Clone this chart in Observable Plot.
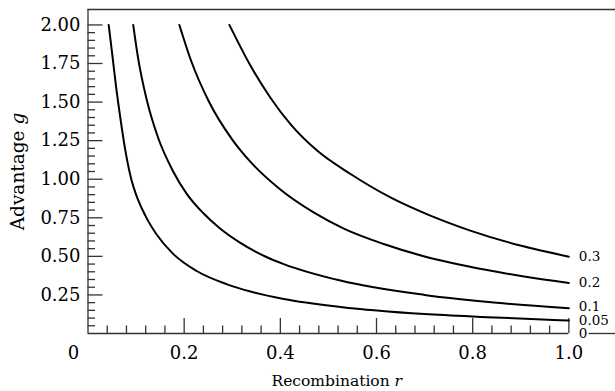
<!DOCTYPE html>
<html>
<head>
<meta charset="utf-8">
<script src="https://cdn.jsdelivr.net/npm/d3@7"></script>
<script src="https://cdn.jsdelivr.net/npm/@observablehq/plot@0.6"></script>
<style>
  html, body { margin: 0; padding: 0; background: #fff; }
  #chart svg { display: block; }
</style>
</head>
<body>
<div id="chart"></div>
<script>
// Curve parameters (labels at the right end)
const curveLabels = ["0.05", "0.1", "0.2", "0.3"];

// Recombination r and advantage g
const r005 = [0.043, 0.050, 0.058, 0.0676, 0.078, 0.090, 0.100, 0.112, 0.125, 0.142, 0.177, 0.226, 0.288, 0.338, 0.407, 0.525, 0.700, 0.830, 1.000];
const g005 = [2.000, 1.820, 1.610, 1.389, 1.180, 1.000, 0.900, 0.810, 0.730, 0.645, 0.516, 0.405, 0.320, 0.272, 0.224, 0.172, 0.126, 0.106, 0.084];

const r010 = [0.094, 0.104, 0.122, 0.146, 0.176, 0.205, 0.240, 0.274, 0.316, 0.371, 0.407, 0.525, 0.700, 0.850, 1.000];
const g010 = [2.000, 1.788, 1.516, 1.267, 1.057, 0.907, 0.779, 0.682, 0.589, 0.496, 0.450, 0.343, 0.250, 0.199, 0.164];

const r020 = [0.190, 0.215, 0.250, 0.300, 0.338, 0.400, 0.470, 0.532, 0.615, 0.700, 0.830, 0.910, 1.000];
const g020 = [2.000, 1.763, 1.512, 1.257, 1.112, 0.933, 0.783, 0.680, 0.580, 0.499, 0.411, 0.368, 0.328];

const r030 = [0.294, 0.338, 0.379, 0.421, 0.477, 0.546, 0.629, 0.712, 0.795, 0.899, 1.000];
const g030 = [2.000, 1.735, 1.530, 1.357, 1.184, 1.034, 0.882, 0.764, 0.667, 0.570, 0.498];

const seriesR = [r005, r010, r020, r030];
const seriesG = [g005, g010, g020, g030];
const labelNudge = [0, -1.5, 0, 0];

// Axis ticks
const xMajor = [0.2, 0.4, 0.6, 0.8, 1.0];
const xMinor = d3.range(1, 26).map(i => +(i * 0.04).toFixed(2)).filter(v => !xMajor.some(m => Math.abs(m - v) < 1e-9));
const yMajor = [0.25, 0.5, 0.75, 1.0, 1.25, 1.5, 1.75, 2.0];
const yMinor = d3.range(1, 41).map(i => +(i * 0.05).toFixed(2)).filter(v => !yMajor.some(m => Math.abs(m - v) < 1e-9));

// Zero line (curve "0") is interrupted by its label
const zeroLabel = "0";
const zeroSegments = [{x1: 0, x2: 1.0}, {x1: 1.042, x2: 1.097}];

// Layout
const W = 615, H = 391;
const mL = 87.5, mR = 0, mT = 9, mB = 58;
const innerW = W - mL - mR, innerH = H - mT - mB;
const majorLen = 15, minorLen = 7.5;
const font = "DejaVu Serif";
const axisColor = "#333";

const rows = [];
seriesR.forEach((rs, k) => rs.forEach((r, i) => rows.push({c: curveLabels[k], r, g: seriesG[k][i]})));
const ends = seriesR.map((rs, k) => ({c: curveLabels[k], r: rs[rs.length - 1], g: seriesG[k][rs.length - 1], dy: labelNudge[k]}));

const chart = Plot.plot({
  width: W, height: H,
  marginLeft: mL, marginRight: mR, marginTop: mT, marginBottom: mB,
  x: {domain: [0, 1.097], axis: null},
  y: {domain: [0, 2.1], axis: null},
  style: {fontFamily: font, background: "#fff", color: "#000"},
  marks: [
    // frame
    Plot.ruleX([0], {stroke: axisColor, strokeWidth: 1.3}),
    Plot.ruleY([2.1], {stroke: axisColor, strokeWidth: 1.3}),
    Plot.ruleY(zeroSegments, {y: 0, x1: "x1", x2: "x2", stroke: axisColor, strokeWidth: 1.3}),
    // inward ticks
    Plot.tickX(xMinor, {x: d => d, insetTop: innerH - minorLen, stroke: axisColor, strokeWidth: 1.3}),
    Plot.tickX(xMajor, {x: d => d, insetTop: innerH - majorLen, stroke: axisColor, strokeWidth: 1.3}),
    Plot.tickY(yMinor, {y: d => d, insetRight: innerW - minorLen, stroke: axisColor, strokeWidth: 1.3}),
    Plot.tickY(yMajor, {y: d => d, insetRight: innerW - majorLen, stroke: axisColor, strokeWidth: 1.3}),
    // tick labels
    Plot.text(xMajor, {x: d => d, frameAnchor: "bottom", dy: 20, text: d => d.toFixed(1), fontSize: 18, textAnchor: "middle", lineAnchor: "middle", fill: "#000"}),
    Plot.text(yMajor, {y: d => d, frameAnchor: "left", dx: -7.5, textAnchor: "end", lineAnchor: "middle", text: d => d.toFixed(2), fontSize: 18, fill: "#000"}),
    Plot.text(["0"], {frameAnchor: "bottom-left", dx: -14.5, dy: 20, text: d => d, fontSize: 18, textAnchor: "middle", lineAnchor: "middle", fill: "#000"}),
    // axis titles
    Plot.text(["Recombination r"], {frameAnchor: "bottom", dx: -15, dy: 48, text: d => d, fontSize: 15.5, textAnchor: "middle", lineAnchor: "middle", fill: "#000"}),
    Plot.text(["Advantage g"], {frameAnchor: "left", dx: -69.5, rotate: -90, text: d => d, fontSize: 18.5, textAnchor: "middle", lineAnchor: "middle", fill: "#000"}),
    // curves
    Plot.line(rows, {x: "r", y: "g", z: "c", curve: "monotone-x", stroke: "#000", strokeWidth: 2}),
    // curve labels
    ...ends.map(e => Plot.text([e], {x: "r", y: "g", text: "c", dx: 10, dy: e.dy, textAnchor: "start", lineAnchor: "middle", fontSize: 13.5, fill: "#000"})),
    Plot.text([zeroLabel], {x: 1.0, y: 0, text: d => d, dx: 10, dy: 0.5, textAnchor: "start", lineAnchor: "middle", fontSize: 13.5, fill: "#000"})
  ]
});

// italic variables in axis titles
chart.querySelectorAll("text").forEach(t => {
  const s = t.textContent;
  if (s === "Recombination r" || s === "Advantage g") {
    const base = s.slice(0, -1);
    const v = s.slice(-1);
    t.textContent = "";
    const a = document.createElementNS("http://www.w3.org/2000/svg", "tspan");
    a.textContent = base;
    const b = document.createElementNS("http://www.w3.org/2000/svg", "tspan");
    b.textContent = v;
    b.setAttribute("font-style", "italic");
    t.appendChild(a); t.appendChild(b);
  }
});

document.getElementById("chart").appendChild(chart);
</script>
</body>
</html>
